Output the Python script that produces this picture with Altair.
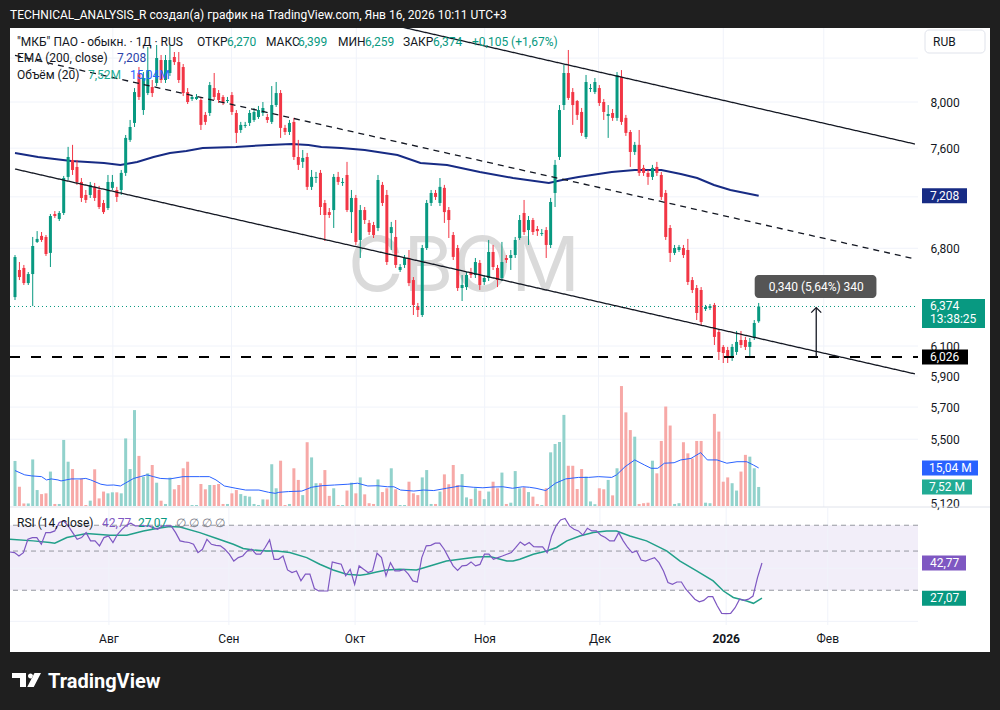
import altair as alt
import pandas as pd

# ---------------- data ----------------
opens = [6.441, 6.638, 6.653, 6.542, 6.608, 6.848, 6.894, 6.886, 6.765, 7.064,
         7.025, 7.072, 7.361, 7.501, 7.443, 7.320, 7.215, 7.215, 7.280, 7.255,
         7.151, 7.111, 7.272, 7.255, 7.255, 7.394, 7.670, 7.816, 8.262, 7.929,
         8.080, 8.134, 8.171, 8.382, 8.198, 8.262, 8.410, 8.363, 8.317, 8.089,
         8.027, 8.027, 8.018, 7.886, 7.903, 8.125, 8.080, 8.045, 8.009, 8.062,
         7.903, 7.755, 7.790, 7.816, 7.842, 7.868, 7.903, 7.868, 7.825, 7.973,
         8.080, 7.773, 7.738, 7.825, 7.526, 7.485, 7.526, 7.280, 7.352, 7.394,
         7.151, 7.079, 7.095, 7.361, 7.312, 7.377, 7.079, 7.191, 6.863, 7.095,
         6.994, 6.978, 6.955, 7.296, 7.215, 6.916, 6.886, 6.638, 6.675, 6.727,
         6.564, 6.377, 6.314, 6.802, 7.151, 7.231, 7.151, 7.272, 7.095, 6.901,
         6.802, 6.506, 6.513, 6.623, 6.601, 6.690, 6.550, 6.579, 6.772, 6.653,
         6.579, 6.727, 6.727, 6.749, 6.878, 7.072, 6.939, 7.017, 6.947, 6.909,
         6.939, 6.825, 7.231, 7.526, 7.973, 8.262, 8.089, 8.009, 7.912, 7.695,
         8.116, 8.089, 8.125, 8.000, 7.877, 7.903, 7.860, 8.226, 7.860, 7.738,
         7.568, 7.628, 7.435, 7.394, 7.361, 7.443, 7.377, 7.231, 6.955, 6.765,
         6.787, 6.802, 6.787, 6.564, 6.506, 6.492, 6.356, 6.363, 6.385, 6.196,
         6.094, 6.073, 6.020, 6.060, 6.141, 6.141, 6.094, 6.155, 6.270]
highs = [6.749, 6.697, 6.675, 6.623, 6.886, 6.931, 6.924, 6.901, 7.064, 7.087,
         7.087, 7.369, 7.611, 7.628, 7.501, 7.352, 7.255, 7.320, 7.312, 7.288,
         7.175, 7.377, 7.377, 7.280, 7.418, 7.712, 7.842, 8.125, 8.317, 8.271,
         8.504, 8.198, 8.523, 8.429, 8.429, 8.523, 8.457, 8.457, 8.345, 8.125,
         8.062, 8.071, 8.036, 7.912, 8.180, 8.262, 8.107, 8.062, 8.045, 8.089,
         7.929, 7.825, 7.825, 7.929, 7.947, 7.965, 8.000, 7.894, 8.143, 8.180,
         8.107, 7.799, 7.842, 7.860, 7.670, 7.585, 7.560, 7.418, 7.402, 7.418,
         7.175, 7.111, 7.385, 7.402, 7.352, 7.485, 7.255, 7.215, 7.135, 7.119,
         7.017, 7.002, 7.377, 7.320, 7.255, 7.002, 7.017, 6.682, 6.749, 6.787,
         6.586, 6.399, 6.825, 7.175, 7.255, 7.255, 7.352, 7.296, 7.119, 6.924,
         6.825, 6.601, 6.623, 6.653, 6.727, 6.712, 6.601, 6.863, 6.825, 6.675,
         6.848, 6.749, 6.787, 6.886, 7.056, 7.175, 7.048, 7.033, 6.970, 6.947,
         6.962, 7.191, 7.501, 7.973, 8.336, 8.476, 8.125, 8.018, 7.947, 8.244,
         8.162, 8.216, 8.152, 8.027, 7.973, 7.938, 8.271, 8.289, 7.886, 7.755,
         7.653, 7.755, 7.460, 7.418, 7.460, 7.485, 7.402, 7.255, 6.978, 6.825,
         6.825, 6.825, 6.871, 6.586, 6.528, 6.513, 6.385, 6.392, 6.399, 6.217,
         6.107, 6.094, 6.114, 6.203, 6.203, 6.162, 6.155, 6.279, 6.399]
lows = [6.420, 6.564, 6.528, 6.528, 6.377, 6.840, 6.848, 6.742, 6.660, 7.033,
        7.009, 7.056, 7.336, 7.377, 7.296, 7.159, 7.151, 7.191, 7.167, 7.103,
        7.064, 7.095, 7.255, 7.159, 7.215, 7.369, 7.653, 7.781, 8.018, 7.886,
        8.062, 8.045, 8.143, 8.171, 8.171, 8.235, 8.336, 8.171, 8.053, 7.982,
        8.009, 8.018, 7.755, 7.799, 7.877, 8.018, 7.991, 7.973, 7.991, 7.886,
        7.644, 7.730, 7.773, 7.790, 7.825, 7.851, 7.877, 7.816, 7.807, 7.956,
        7.687, 7.712, 7.712, 7.501, 7.418, 7.435, 7.255, 7.255, 7.312, 7.056,
        6.855, 7.033, 6.955, 7.296, 7.288, 7.079, 6.916, 6.825, 6.727, 6.986,
        6.901, 6.878, 6.931, 7.127, 6.675, 6.787, 6.653, 6.623, 6.653, 6.520,
        6.314, 6.300, 6.300, 6.787, 7.127, 7.175, 7.127, 6.994, 6.878, 6.712,
        6.485, 6.413, 6.492, 6.579, 6.579, 6.492, 6.528, 6.557, 6.638, 6.513,
        6.557, 6.690, 6.638, 6.727, 6.863, 6.901, 6.825, 6.901, 6.894, 6.894,
        6.727, 6.802, 7.119, 7.501, 7.929, 8.018, 7.799, 7.842, 7.704, 7.678,
        8.089, 8.071, 7.965, 7.842, 7.687, 7.834, 7.834, 7.799, 7.704, 7.443,
        7.543, 7.369, 7.369, 7.296, 7.336, 7.369, 7.175, 6.863, 6.697, 6.749,
        6.772, 6.727, 6.528, 6.470, 6.279, 6.244, 6.342, 6.349, 6.107, 6.006,
        5.986, 5.986, 6.000, 6.040, 6.087, 6.073, 6.026, 6.141, 6.259]
closes = [6.734, 6.586, 6.542, 6.608, 6.817, 6.871, 6.863, 6.757, 7.048, 7.048,
          7.072, 7.352, 7.526, 7.418, 7.320, 7.191, 7.175, 7.296, 7.191, 7.119,
          7.079, 7.320, 7.320, 7.199, 7.394, 7.687, 7.781, 8.089, 8.045, 8.216,
          8.289, 8.080, 8.401, 8.198, 8.382, 8.382, 8.363, 8.198, 8.080, 8.000,
          8.045, 8.045, 7.799, 7.825, 8.152, 8.045, 8.018, 8.000, 8.018, 7.912,
          7.730, 7.799, 7.799, 7.903, 7.912, 7.929, 7.947, 7.842, 7.973, 8.080,
          7.773, 7.738, 7.816, 7.526, 7.460, 7.518, 7.280, 7.361, 7.361, 7.119,
          7.056, 7.056, 7.361, 7.320, 7.320, 7.095, 7.191, 6.848, 7.095, 7.017,
          6.924, 6.901, 7.336, 7.151, 6.697, 6.962, 6.675, 6.660, 6.727, 6.542,
          6.385, 6.349, 6.802, 7.151, 7.231, 7.199, 7.280, 7.079, 7.017, 6.735,
          6.506, 6.528, 6.601, 6.601, 6.697, 6.528, 6.579, 6.772, 6.660, 6.564,
          6.697, 6.712, 6.749, 6.863, 7.017, 6.924, 7.017, 6.924, 6.931, 6.916,
          6.825, 7.159, 7.460, 7.929, 8.262, 8.036, 7.973, 7.886, 7.730, 8.180,
          8.125, 8.180, 7.991, 7.912, 7.894, 7.860, 8.244, 7.825, 7.730, 7.568,
          7.628, 7.394, 7.394, 7.361, 7.435, 7.394, 7.199, 6.886, 6.765, 6.802,
          6.810, 6.749, 6.550, 6.492, 6.328, 6.265, 6.370, 6.377, 6.162, 6.060,
          6.053, 6.033, 6.094, 6.128, 6.107, 6.094, 6.128, 6.258, 6.374]
volumes = [17.8, 7.6, 1.0, 1.0, 18.4, 6.3, 4.7, 5.0, 13.6, 0.8,
           0.8, 26.1, 17.5, 14.6, 10.3, 10.9, 0.4, 2.1, 14.5, 3.0,
           5.7, 5.0, 5.4, 5.4, 5.0, 26.7, 14.6, 37.9, 19.8, 11.6,
           12.9, 16.2, 9.2, 2.1, 0.8, 11.2, 6.6, 8.3, 14.9, 17.5,
           0.4, 0.4, 8.7, 6.6, 8.3, 8.3, 8.7, 0.8, 0.8, 5.0,
           6.3, 4.7, 4.0, 3.7, 0.8, 0.4, 2.6, 2.6, 16.5, 7.0,
           17.9, 0.4, 0.8, 14.9, 10.3, 4.3, 25.2, 19.2, 9.0, 9.0,
           14.2, 4.0, 7.0, 0.4, 0.4, 6.1, 9.2, 5.0, 11.3, 4.6,
           1.1, 0.8, 10.5, 5.5, 7.0, 14.9, 6.6, 0.4, 0.4, 9.6,
           5.0, 4.3, 11.3, 14.2, 0.8, 0.8, 5.7, 12.5, 8.6, 16.2,
           8.3, 12.6, 3.4, 2.8, 7.0, 6.0, 2.7, 5.7, 9.6, 7.0,
           13.2, 0.8, 1.3, 13.8, 7.0, 7.4, 5.5, 3.7, 0.8, 0.4,
           7.0, 21.2, 24.5, 25.3, 36.0, 15.9, 15.9, 6.7, 14.6, 11.6,
           1.8, 0.7, 7.0, 6.6, 10.3, 4.2, 14.9, 47.4, 37.0, 30.0,
           27.4, 0.8, 1.1, 1.3, 17.9, 12.9, 25.7, 39.3, 31.8, 0.8,
           1.1, 25.2, 20.8, 18.8, 25.7, 25.7, 1.3, 1.1, 36.4, 29.4,
           9.6, 11.3, 9.0, 6.1, 13.6, 20.2, 19.5, 14.9, 7.52]
rsi_vals = [49.4, 49.0, 46.9, 49.0, 58.3, 59.6, 59.6, 54.6, 63.6, 63.6,
            65.0, 72.5, 74.0, 69.4, 63.6, 58.3, 59.6, 63.6, 57.1, 57.1,
            53.5, 59.6, 60.9, 55.9, 62.0, 66.4, 70.0, 71.9, 69.4, 69.4,
            69.4, 69.4, 67.9, 66.4, 69.4, 69.4, 69.4, 63.6, 57.1, 56.3,
            55.9, 54.6, 49.0, 51.2, 58.3, 54.6, 53.9, 53.5, 51.2, 48.0,
            43.9, 45.9, 46.9, 50.1, 51.2, 48.0, 48.0, 52.4, 57.8, 44.9,
            44.9, 46.9, 39.1, 37.8, 38.6, 33.9, 37.0, 37.0, 30.7, 29.7,
            29.7, 29.7, 43.4, 42.7, 42.1, 36.2, 39.4, 32.4, 41.2, 39.4,
            37.8, 38.6, 48.6, 45.9, 36.2, 43.0, 38.6, 38.6, 39.4, 37.0,
            33.9, 33.4, 45.9, 53.5, 53.9, 55.4, 55.4, 51.2, 45.9, 41.2,
            38.9, 41.2, 41.5, 43.4, 41.2, 42.0, 48.0, 48.0, 44.9, 45.9,
            46.9, 48.0, 49.0, 52.4, 56.3, 53.9, 55.9, 53.0, 52.8, 52.8,
            49.0, 60.9, 69.4, 75.0, 76.4, 69.4, 66.4, 65.0, 61.5, 67.3,
            65.0, 65.0, 61.5, 59.6, 57.1, 57.1, 63.6, 57.1, 52.4, 49.0,
            50.1, 44.5, 43.9, 44.9, 45.9, 43.0, 38.6, 33.2, 32.4, 33.4,
            33.4, 30.4, 28.5, 26.7, 25.8, 26.3, 27.6, 27.6, 24.5, 22.2,
            22.1, 22.2, 23.9, 26.7, 26.3, 26.7, 27.8, 35.4, 42.77]
rsi_ma_idx = [0, 5.2, 8.9, 10, 12.7, 17.1, 22.3, 26.1, 29.8, 32.8,
              35.7, 38, 42.4, 46.2, 49.9, 52.1, 54.4, 57.3, 59.6, 62.5,
              66.3, 69.2, 72.2, 75.2, 78.2, 79.7, 81.9, 84.1, 87.1, 90.8,
              93.8, 97.5, 100.5, 104.3, 107.2, 111, 112.4, 113.9, 116.9, 119.9,
              122.1, 124.4, 127.3, 130.3, 133.3, 135.5, 138.5, 142.2, 146.7, 149.7,
              153.4, 157.1, 159.4, 161.6, 164.6, 166.1, 168]
rsi_ma_val = [58.3, 57.1, 55.9, 55.4, 59.6, 62.8, 61.5, 61.5, 65.0, 67.0,
              68.8, 68.5, 63.6, 58.9, 54.6, 51.7, 50.7, 50.1, 50.1, 49.0,
              45.9, 42.1, 39.1, 37.0, 36.5, 37.0, 38.1, 39.1, 39.4, 39.1,
              41.2, 43.9, 44.9, 46.3, 46.6, 43.9, 43.9, 44.9, 48.0, 50.1,
              52.4, 57.1, 60.9, 63.6, 65.0, 65.0, 60.9, 57.1, 50.1, 43.9,
              38.6, 33.9, 29.7, 27.3, 26.1, 25.3, 27.07]
ema_idx = [0, 5.2, 12.7, 20.1, 23.8, 27.6, 31.3, 35.0, 38.7, 42.4, 49.9, 57.3,
           62.5, 66.3, 69.2, 73.7, 79.0, 86.4, 91.6, 97.6, 105.0, 112.5, 120.6,
           123.6, 127.3, 134.8, 140.0, 146.0, 150.4, 154.1, 157.9, 161.6, 168.0]
ema_val = [7.559, 7.526, 7.492, 7.476, 7.459, 7.484, 7.526, 7.559, 7.576, 7.602,
           7.610, 7.627, 7.635, 7.627, 7.610, 7.602, 7.585, 7.543, 7.476, 7.459,
           7.402, 7.352, 7.311, 7.336, 7.360, 7.402, 7.418, 7.418, 7.385, 7.352,
           7.295, 7.255, 7.208]
vma_idx = [0, 2.2, 3.7, 6.0, 7.1, 8.2, 9.7, 10.4, 12.7, 14.9, 16.0, 17.1, 19.4,
           20.8, 22.3, 23.8, 24.9, 26.8, 28.3, 29.8, 31.3, 32.8, 35.0, 38.0, 39.5,
           41.7, 43.9, 45.4, 47.3, 49.9, 52.1, 55.1, 57.3, 58.8, 59.6, 61.8, 64.8,
           67.0, 69.2, 72.2, 75.2, 77.4, 79.7, 81.9, 84.1, 85.6, 87.1, 90.1, 92.3,
           94.6, 97.5, 100.5, 103.5, 105.7, 108.0, 110.2, 112.4, 114.7, 116.2,
           117.7, 119.9, 122.1, 124.4, 127.3, 129.6, 131.8, 134.8, 135.9, 137.8,
           140.0, 142.2, 143.7, 145.2, 146.7, 148.9, 150.4, 152.7, 154.9, 156.4,
           158.6, 160.8, 163.1, 165.3, 166.8, 168.0]
vma_val = [14.0, 12.3, 11.9, 11.6, 10.3, 10.7, 10.3, 9.9, 10.7, 10.7, 10.9, 10.3,
           8.6, 8.2, 8.3, 7.9, 9.0, 10.9, 11.6, 12.3, 11.6, 10.9, 10.7, 11.6, 11.6,
           11.6, 11.6, 10.3, 7.9, 7.0, 6.3, 6.3, 5.4, 5.0, 5.4, 5.7, 5.9, 7.4, 8.0,
           8.3, 8.6, 9.0, 7.9, 8.0, 7.6, 7.6, 6.3, 5.9, 6.3, 6.1, 7.0, 7.9, 7.4, 7.2,
           7.5, 7.6, 7.0, 7.6, 7.4, 7.0, 6.1, 9.0, 10.7, 11.3, 11.3, 11.6, 11.3, 12.3,
           15.5, 18.2, 16.2, 14.9, 14.9, 16.9, 17.1, 18.2, 18.8, 21.1, 18.2, 18.2,
           16.9, 17.5, 17.5, 16.2, 15.04]
month_labels = ["Авг", "Сен", "Окт", "Ноя", "Дек", "2026", "Фев"]
month_pos = [22.1, 48.9, 77.1, 106.1, 131.8, 160.0, 182.7]
price_labels = [8.0, 7.6, 6.8, 6.1, 5.9, 5.7, 5.5, 5.12]
price_grid = [8.4, 8.0, 7.6, 7.2, 6.8, 6.1, 5.9, 5.7, 5.5]
rsi_labels = [80, 20]
rsi_levels = [70, 50, 30]
rsi_grid = [40, 20]
line_name = ["upper", "upper", "middle", "middle", "lower", "lower"]
line_idx = [80.0, 203.3, 0.0, 203.3, 0.0, 203.3]
line_price = [8.767, 7.635, 8.425, 6.720, 7.426, 5.914]
support_level = 6.026
last_close = 6.374
measure_idx = 181.0
measure_from, measure_to = 6.026, 6.366
ema_last = 7.208
vol_last, vma_last = 7.52, 15.04
rsi_last, rsi_ma_last = 42.77, 27.07

# ---------------- styling ----------------
W, HT, HR = 908, 479, 117
FONT = "Roboto"
TXT = "#131722"
UP, DN = "#089981", "#f23645"
VUP, VDN = "#92d2cc", "#f7a9a7"
EMA_C = "#172b84"
GRID = "#f0f3fa"
DARK = "#1f1f1f"

XS = alt.Scale(domain=[0, 202.86], nice=False, zero=False)
PS = alt.Scale(type="log", domain=[5.101, 8.6856], nice=False, zero=False)
VS = alt.Scale(domain=[-0.4, 188.9], nice=False, zero=False)
RS = alt.Scale(type="log", domain=[19.07, 87.65], nice=False, zero=False)

one = pd.DataFrame({"k": [0]})
bars = pd.DataFrame({"i": list(range(len(closes))), "o": opens, "h": highs,
                     "l": lows, "c": closes, "v": volumes, "rsi": rsi_vals})


def X(f="i"):
    return alt.X(f"{f}:Q", scale=XS, axis=None)


def PY(f):
    return alt.Y(f"{f}:Q", scale=PS, axis=None)


def PD(v):
    return alt.YDatum(v, scale=PS, axis=None)


def VD(v):
    return alt.YDatum(v, scale=VS, axis=None)


def vrect(x, x2, y, y2, color, **kw):
    return alt.Chart(one).mark_rect(color=color, **kw).encode(
        x=alt.value(x), x2=alt.value(x2), y=alt.value(y), y2=alt.value(y2))


def vtext(s, x, y, color=TXT, size=12, weight="normal", align="left", font=FONT):
    return alt.Chart(one).mark_text(text=s, align=align, baseline="middle", fontSize=size,
                                    fontWeight=weight, font=font, color=color).encode(
        x=alt.value(x), y=alt.value(y))


def tag_box(ydef, xc, w, h, color, yoff=0):
    r = h / w
    path = f"M-1,{-r:.4f}L1,{-r:.4f}L1,{r:.4f}L-1,{r:.4f}Z"
    return alt.Chart(one).mark_point(shape=path, filled=True, size=w * w, color=color,
                                     opacity=1, yOffset=yoff).encode(
        x=alt.value(xc), y=ydef)


def tag_text(s, ydef, x, color="white", yoff=0):
    return alt.Chart(one).mark_text(text=s, align="left", baseline="middle", fontSize=12,
                                    font=FONT, color=color, yOffset=yoff).encode(
        x=alt.value(x), y=ydef)


candle_color = alt.condition("datum.c >= datum.o", alt.value(UP), alt.value(DN))
vol_color = alt.condition("datum.c >= datum.o", alt.value(VUP), alt.value(VDN))

price_axis = alt.Axis(orient="right", values=price_labels,
                      labelExpr="replace(format(datum.value, '.3f'), '.', ',')",
                      grid=False, ticks=False, domain=False, labelPadding=12,
                      labelFont=FONT, labelFontSize=12, labelColor=TXT, title=None,
                      labelOverlap=False)

# ---------------- top pane (price + volume, independent y scales) ----------------
layers = [
    vrect(-10, 990, -28, 0, DARK), vrect(-10, 0, 0, 682, DARK), vrect(980, 990, 0, 682, DARK),
    alt.Chart(pd.DataFrame({"p": price_grid})).mark_rule(color=GRID).encode(y=PY("p")),
    alt.Chart(pd.DataFrame({"m": month_pos})).mark_rule(color=GRID).encode(x=X("m")),
    vtext("CBOM", 454, 240, color="#dadada", size=76, font="Inter", align="center"),
    alt.Chart(bars).mark_bar(size=3).encode(
        x=X(), y=alt.Y("v:Q", scale=VS, axis=None), y2=alt.Y2Datum(0), color=vol_color),
    alt.Chart(pd.DataFrame({"i": vma_idx, "v": vma_val})).mark_line(
        color="#2962ff", strokeWidth=1).encode(x=X(), y=alt.Y("v:Q", scale=VS, axis=None)),
    alt.Chart(pd.DataFrame({"i": ema_idx, "p": ema_val})).mark_line(
        color=EMA_C, strokeWidth=2, clip=True).encode(x=X(), y=PY("p")),
    alt.Chart(bars).mark_rule(strokeWidth=1, clip=True).encode(
        x=X(), y=alt.Y("l:Q", scale=PS, axis=price_axis), y2="h:Q", color=candle_color),
    alt.Chart(bars).mark_bar(size=3, clip=True).encode(
        x=X(), y=PY("o"), y2="c:Q", color=candle_color),
    alt.Chart(one).mark_rule(color="#000000", strokeWidth=2, strokeDash=[10, 11]).encode(
        x=alt.value(0), x2=alt.value(W), y=PD(support_level)),
    alt.Chart(one).mark_rule(color=UP, strokeWidth=1, strokeDash=[1, 3]).encode(
        x=alt.value(0), x2=alt.value(W), y=PD(last_close)),
    alt.Chart(pd.DataFrame({"name": line_name, "i": line_idx, "p": line_price})).mark_line(
        color=TXT, strokeWidth=1.3, clip=True).encode(
        x=X(), y=PY("p"), detail="name:N",
        strokeDash=alt.StrokeDash("name:N", legend=None,
                                  scale=alt.Scale(domain=["upper", "middle", "lower"],
                                                  range=[[1, 0], [6, 5], [1, 0]]))),
    alt.Chart(one).mark_rule(color=TXT, strokeWidth=1.3).encode(
        x=alt.datum(measure_idx), y=PD(measure_from), y2=alt.Y2Datum(measure_to)),
    alt.Chart(one).mark_point(shape="M-1,1L0,0L1,1", filled=False, size=100,
                              strokeWidth=1.3, color=TXT, opacity=1).encode(
        x=alt.datum(measure_idx), y=PD(measure_to)),
    alt.Chart(one).mark_rect(color="#555555", cornerRadius=4).encode(
        x=alt.datum(167.1), x2=alt.datum(194.6), y=PD(6.601), y2=alt.Y2Datum(6.434)),
    alt.Chart(one).mark_text(text="0,340 (5,64%) 340", color="white", fontSize=12,
                             font=FONT, align="center", baseline="middle").encode(
        x=alt.datum(measure_idx), y=PD(6.517)),
    tag_box(PD(ema_last), 934.5, 45, 15, EMA_C), tag_text("7,208", PD(ema_last), 920),
    tag_box(PD(last_close), 943.5, 63, 29, UP, yoff=7), tag_text("6,374", PD(last_close), 920),
    tag_text("13:38:25", PD(last_close), 920, yoff=13),
    tag_box(PD(support_level), 935, 46, 15, "#000000"), tag_text("6,026", PD(support_level), 920),
    tag_box(VD(vma_last), 940, 56, 15, "#2962ff"), tag_text("15,04 M", VD(vma_last), 919),
    tag_box(VD(vol_last), 937, 50, 15, "#22ab94"), tag_text("7,52 M", VD(vol_last), 919),
    alt.Chart(one).mark_rule(color="#e0e3eb").encode(x=alt.value(0), x2=alt.value(980), y=alt.value(479)),
    vtext("TECHNICAL_ANALYSIS_R создал(а) график на TradingView.com, Янв 16, 2026 10:11 UTC+3",
          0, -13, color="#ffffff"),
    vtext('"МКБ" ПАО - обыкн. · 1Д · RUS', 7, 13.5), vtext("ОТКР", 187, 13.5),
    vtext("6,270", 217, 13.5, UP), vtext("МАКС", 256, 13.5), vtext("6,399", 288, 13.5, UP),
    vtext("МИН", 328, 13.5), vtext("6,259", 355, 13.5, UP), vtext("ЗАКР", 393, 13.5),
    vtext("6,374", 423, 13.5, UP), vtext("+0,105 (+1,67%)", 462, 13.5, UP),
    vtext("EMA (200, close)", 7, 30), vtext("7,208", 107, 30, "#2a3fa8"),
    vtext("Объём (20)", 7, 46.5), vtext("7,52M", 78, 46.5, "#22ab94"),
    vtext("15,04M", 120, 46.5, "#2962ff"),
    vrect(915, 975, 2, 25, "#ffffff", stroke="#e0e3eb", cornerRadius=4),
    vtext("RUB", 923, 14),
]
top = alt.layer(*layers).resolve_scale(y="independent").properties(width=W, height=HT)

# ---------------- RSI pane ----------------
months = pd.DataFrame({"m": month_pos, "lab": month_labels})
logo_path = ("M-1,-0.483L-0.034,-0.483L-0.034,0.483L-0.448,0.483L-0.448,-0.138L-1,-0.138Z"
             "M0.104,-0.276A0.172,0.172 0 1,0 0.448,-0.276A0.172,0.172 0 1,0 0.104,-0.276Z"
             "M0.55,-0.483L1,-0.483L0.5,0.483L0.05,0.483Z")


def RD(v):
    return alt.YDatum(v, scale=RS, axis=None)


rsi_chart = alt.layer(
    alt.Chart(one).mark_rect(color="#f2eef9").encode(
        x=alt.value(0), x2=alt.value(W), y=RD(70), y2=alt.Y2Datum(30)),
    alt.Chart(pd.DataFrame({"g": rsi_grid})).mark_rule(color=GRID).encode(
        y=alt.Y("g:Q", scale=RS, axis=None)),
    alt.Chart(months).mark_rule(color=GRID).encode(x=X("m")),
    alt.Chart(pd.DataFrame({"lv": rsi_levels})).mark_rule(
        color="#9598a1", strokeDash=[5, 4], strokeWidth=1).encode(
        y=alt.Y("lv:Q", scale=RS, axis=None)),
    alt.Chart(pd.DataFrame({"i": rsi_ma_idx, "r": rsi_ma_val})).mark_line(
        color="#22a08a", strokeWidth=1.5).encode(x=X(), y=alt.Y("r:Q", scale=RS, axis=None)),
    alt.Chart(bars).mark_line(color="#7e57c2", strokeWidth=1.2).encode(
        x=X(), y=alt.Y("rsi:Q", scale=RS, axis=alt.Axis(
            orient="right", values=rsi_labels,
            labelExpr="replace(format(datum.value, '.2f'), '.', ',')",
            grid=False, ticks=False, domain=False, labelPadding=12, labelFont=FONT,
            labelFontSize=12, labelColor=TXT, title=None, labelOverlap=False))),
    tag_box(RD(rsi_last), 934, 44, 15, "#7e57c2"), tag_text("42,77", RD(rsi_last), 920),
    tag_box(RD(rsi_ma_last), 934, 44, 15, UP), tag_text("27,07", RD(rsi_ma_last), 920),
    vtext("RSI (14, close)", 7, 15), vtext("42,77", 92, 15, "#7e57c2"),
    vtext("27,07", 128, 15, UP), vtext("∅  ∅  ∅  ∅", 166, 15, "#787b86"),
    alt.Chart(months).transform_filter("datum.lab != '2026'").mark_text(
        fontSize=12, font=FONT, color=TXT, baseline="middle").encode(
        x=X("m"), y=alt.value(131), text="lab:N"),
    alt.Chart(months).transform_filter("datum.lab == '2026'").mark_text(
        fontSize=12, font=FONT, color=TXT, baseline="middle", fontWeight="bold").encode(
        x=X("m"), y=alt.value(131), text="lab:N"),
    vrect(-10, 990, 144, 202, DARK),
    alt.Chart(one).mark_point(shape=logo_path, filled=True, size=841, color="#ffffff",
                              opacity=1).encode(x=alt.value(16.5), y=alt.value(172)),
    vtext("TradingView", 38, 174, "#ffffff", size=20, weight="bold"),
).properties(width=W, height=HR)

chart = alt.vconcat(top, rsi_chart, spacing=1, bounds="flush").properties(
    background="#ffffff", padding=0).configure_view(stroke=None)

chart.save("out.html", embed_options={"renderer": "svg", "actions": False})
